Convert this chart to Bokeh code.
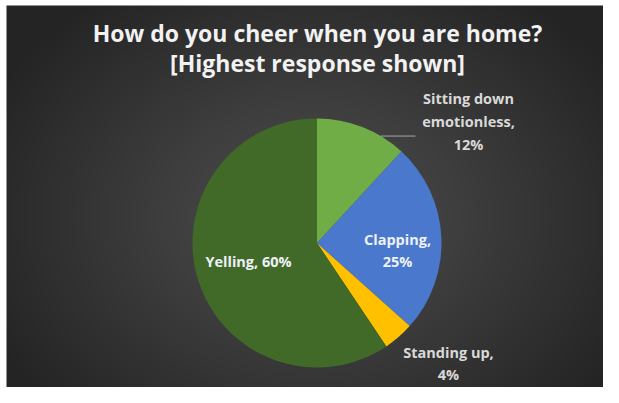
import numpy as np
from bokeh.plotting import figure
from bokeh.models import Range1d, ColumnDataSource
from bokeh.core.properties import value
from bokeh.embed import file_html
from bokeh.resources import INLINE

# ---- data ----
categories = ["Sitting down emotionless", "Clapping", "Standing up", "Yelling"]
label_text = ["Sitting down\nemotionless,\n12%", "Clapping,\n25%", "Standing up,\n4%", "Yelling, 60%"]
percent = [12, 25, 4, 60]
colors = ["#70AD47", "#4A78CC", "#FFC000", "#416A29"]
title_lines = ["How do you cheer when you are home?", "[Highest response shown]"]

W, H = 603, 387
p = figure(width=W, height=H, output_backend="svg", toolbar_location=None,
           x_range=Range1d(0, W), y_range=Range1d(0, H), min_border=0)
p.axis.visible = False
p.grid.visible = False
p.outline_line_color = None
p.background_fill_color = "#ffffff"
p.border_fill_color = "#ffffff"

# radial background gradient (styling), leaving a thin white strip top/left
x0, top = 6, 5
Hi, Wi = H - top, W - x0
yy, xx = np.mgrid[0:Hi, 0:Wi]
gx, gy = 305.0, 170.0   # image rows counted from bottom
d = np.sqrt((xx - gx) ** 2 + ((yy - gy) * 1.3) ** 2) / 360.0
d = np.clip(d, 0, 1)
c_in, c_out = 80.0, 36.0
g = (c_in + (c_out - c_in) * d).astype(np.uint32)
img = (255 << 24) | (g << 16) | (g << 8) | g
p.image_rgba(image=[img.astype(np.uint32)], x=x0, y=0, dw=Wi, dh=Hi)

# pie
cx, cy, R = 316.5, 144.5, 124.5
total = float(sum(percent))
frac = np.array(percent) / total
cum = np.concatenate([[0], np.cumsum(frac)])
start = np.pi / 2 - cum[:-1] * 2 * np.pi
end = np.pi / 2 - cum[1:] * 2 * np.pi
src = ColumnDataSource(dict(cat=categories, start=start, end=end, color=colors))
p.wedge(x=cx, y=cy, radius=R, start_angle="start", end_angle="end",
        direction="clock", fill_color="color", line_color=None, source=src)

# labels (offsets from pie center, in px)
label_dx = [151.5, 80.5, 131.5, -68.5]
label_dy = [121.5, -7.5, -120.5, -18.5]
label_col = ["#d9d9d9", "#eef1f8", "#d9d9d9", "#eef1f8"]
lsrc = ColumnDataSource(dict(x=[cx + v for v in label_dx], y=[cy + v for v in label_dy],
                             t=label_text, c=label_col))
p.text(x="x", y="y", text="t", source=lsrc, text_color="c", text_align="center",
       text_baseline="middle", text_font=value("Open Sans"), text_font_style="bold",
       text_font_size="14.5px", text_line_height=1.2)

# leader line for the small outside label
ang = start[0] + (end[0] - start[0]) * 0.72
p.line(x=[cx + R * np.cos(ang), cx + 98.5], y=[cy + R * np.sin(ang)] * 2,
       line_color="#a6a6a6", line_width=1)

# title
p.text(x=[317, 317], y=[355, 325], text=title_lines, text_color="#f2f2f2",
       text_align="center", text_baseline="middle", text_font=value("Open Sans"),
       text_font_style="bold", text_font_size="23px")

open("out.html", "w").write(file_html(p, INLINE))
